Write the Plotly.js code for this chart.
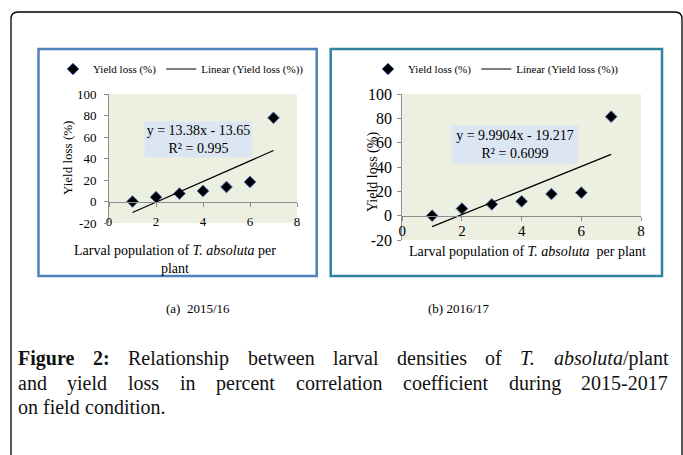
<!DOCTYPE html>
<html>
<head>
<meta charset="utf-8">
<script src="https://cdn.plot.ly/plotly-3.0.1.min.js"></script>
<style>
html,body{margin:0;padding:0;background:#fff;}
#chart{width:683px;height:455px;}
</style>
</head>
<body>
<div id="chart"></div>
<script>
// ---- data ----
const larvae = [1, 2, 3, 4, 5, 6, 7];
const loss1516 = [0, 4, 7.4, 9.8, 13.5, 18.2, 77.8];
const loss1617 = [0, 5.8, 9.3, 11.8, 17.8, 18.9, 81.4];
const trendX = [1, 7];
const trend1516 = [-10.2, 47.4];
const trend1617 = [-9.0, 50.4];
const xTickVals = [0, 2, 4, 6, 8];
const xTickText = ['0', '2', '4', '6', '8'];
const yTickVals = [-20, 0, 20, 40, 60, 80, 100];
const yTickText = ['-20', '0', '20', '40', '60', '80', '100'];
const seriesName = 'Yield loss (%)';
const trendName = 'Linear (Yield loss (%))';
const eq1516 = 'y = 13.38x - 13.65<br>R² = 0.995';
const eq1617 = 'y = 9.9904x - 19.217<br>R² = 0.6099';
const subCaps = ['(a)\u00a0 2015/16', '(b) 2016/17'];
const captionText = [
  [[['Figure', 'b']], [['2:', 'b']], [['Relationship', '']], [['between', '']], [['larval', '']], [['densities', '']], [['of', '']], [['T.', 'i']], [['absoluta', 'i'], ['/plant', '']]],
  'and yield loss in percent correlation coefficient during 2015-2017'.split(' ').map(w => [[w, '']]),
  'on field condition.'.split(' ').map(w => [[w, '']])
];

// ---- helpers ----
const W = 683, H = 455;
const px = v => v / W;
const py = v => 1 - v / H;
const SERIF = 'Liberation Serif, Times New Roman, serif';

const markerStyle = {symbol: 'diamond', size: 9, color: '#000000', line: {color: '#4f74b8', width: 1}};

const traces = [
  {x: larvae, y: loss1516, type: 'scatter', mode: 'markers', name: seriesName, marker: markerStyle, xaxis: 'x', yaxis: 'y', legend: 'legend'},
  {x: trendX, y: trend1516, type: 'scatter', mode: 'lines', name: trendName, line: {color: '#000', width: 1.2}, xaxis: 'x', yaxis: 'y', legend: 'legend'},
  {x: larvae, y: loss1617, type: 'scatter', mode: 'markers', name: seriesName, marker: markerStyle, xaxis: 'x2', yaxis: 'y2', legend: 'legend2'},
  {x: trendX, y: trend1617, type: 'scatter', mode: 'lines', name: trendName, line: {color: '#000', width: 1.2}, xaxis: 'x2', yaxis: 'y2', legend: 'legend2'}
];

function xAxis(d0, d1, pos, fs, standoff) {
  return {domain: [px(d0), px(d1)], range: [0, 8], anchor: 'free', position: pos,
    tickmode: 'array', tickvals: xTickVals, ticktext: xTickText,
    showline: true, linecolor: '#8c8c8c', linewidth: 1, ticks: 'outside', ticklen: 4, tickcolor: '#8c8c8c',
    ticklabelstandoff: standoff, showgrid: false, zeroline: false, fixedrange: true,
    tickfont: {family: SERIF, size: fs, color: '#000'}};
}
function yAxis(top, bottom, anchor, fs, standoff) {
  return {domain: [py(bottom), py(top)], range: [-20, 100], anchor: anchor,
    tickmode: 'array', tickvals: yTickVals, ticktext: yTickText,
    showline: true, linecolor: '#8c8c8c', linewidth: 1, ticks: 'outside', ticklen: 4, tickcolor: '#8c8c8c',
    ticklabelstandoff: standoff, showgrid: false, zeroline: false, fixedrange: true,
    tickfont: {family: SERIF, size: fs, color: '#000'}};
}

// positions of y=0 in paper coords
const pos1 = py(223) + (py(94) - py(223)) * (20 / 120);
const pos2 = py(240) + (py(94) - py(240)) * (20 / 120);

function note(x, y, text, fs, extra) {
  return Object.assign({xref: 'paper', yref: 'paper', x: px(x), y: py(y), xanchor: 'center', yanchor: 'middle',
    text: text, showarrow: false, font: {family: SERIF, size: fs, color: '#000'}}, extra || {});
}

const annotations = [
  note(67, 158, 'Yield loss (%)', 13, {textangle: -90}),
  note(373, 172, 'Yield loss (%)', 14, {textangle: -90}),
  note(175, 259.5, 'Larval population of <i>T. absoluta</i> per<br>plant', 14),
  note(527, 251, 'Larval population of <i>T. absoluta</i>\u00a0 per plant', 14),
  note(198.5, 139.5, eq1516, 14, {bgcolor: '#dce6f2', width: 105, height: 33, borderpad: 1}),
  note(515, 144.5, eq1617, 14, {bgcolor: '#dce6f2', width: 124, height: 35, borderpad: 1}),
  note(198, 308, subCaps[0], 13),
  note(459, 308, subCaps[1], 13)
];

// caption paragraph, justified
const CFS = 20;
const cvs = document.createElement('canvas');
const ctx = cvs.getContext('2d');
function segFont(st) {
  return (st === 'i' ? 'italic ' : '') + (st === 'b' ? 'bold ' : '') + CFS + 'px "Liberation Serif"';
}
function wordWidth(word) {
  let w = 0;
  word.forEach(([t, st]) => { ctx.font = segFont(st); w += ctx.measureText(t).width; });
  return w;
}
function wordHtml(word) {
  return word.map(([t, st]) => st === 'b' ? '<b>' + t + '</b>' : st === 'i' ? '<i>' + t + '</i>' : t).join('');
}
ctx.font = segFont('');
const spaceW = ctx.measureText(' ').width;
const capLeft = 18, capRight = 668;
const capCenters = [358, 383, 407];
captionText.forEach((words, li) => {
  const widths = words.map(wordWidth);
  const total = widths.reduce((a, b) => a + b, 0);
  const justify = li < captionText.length - 1;
  const gap = justify ? (capRight - capLeft - total) / (words.length - 1) : spaceW;
  let xx = capLeft;
  words.forEach((w, wi) => {
    annotations.push({xref: 'paper', yref: 'paper', x: px(xx), y: py(capCenters[li]), xanchor: 'left', yanchor: 'middle',
      text: wordHtml(w), showarrow: false, borderpad: 0, borderwidth: 0,
      font: {family: SERIF, size: CFS, color: '#111'}});
    xx += widths[wi] + gap;
  });
});

const r = 7;
const shapes = [
  // outer frame with rounded top corners
  {type: 'path', xref: 'paper', yref: 'paper',
   path: `M ${px(11)} ${py(470)} L ${px(11)} ${py(12 + r)} Q ${px(11)} ${py(12)} ${px(11 + r)} ${py(12)} L ${px(682 - r)} ${py(12)} Q ${px(682)} ${py(12)} ${px(682)} ${py(12 + r)} L ${px(682)} ${py(470)}`,
   line: {color: '#000', width: 1.3}},
  {type: 'rect', xref: 'paper', yref: 'paper', x0: px(38.5), x1: px(316.7), y0: py(49), y1: py(276), line: {color: '#4f81bd', width: 2.5}},
  {type: 'rect', xref: 'paper', yref: 'paper', x0: px(330.7), x1: px(662), y0: py(49), y1: py(276), line: {color: '#31849b', width: 2.5}}
];

const legendBase = {orientation: 'h', yanchor: 'middle', xanchor: 'left', bgcolor: 'rgba(0,0,0,0)',
  font: {family: SERIF, size: 11, color: '#000'}, borderwidth: 0};

const layout = {
  width: W, height: H,
  margin: {l: 0, r: 0, t: 0, b: 0},
  paper_bgcolor: '#ffffff',
  plot_bgcolor: '#edf0e1',
  showlegend: true,
  legend: Object.assign({}, legendBase, {x: px(53), y: py(69)}),
  legend2: Object.assign({}, legendBase, {x: px(368), y: py(69)}),
  xaxis: xAxis(109, 297, pos1, 13, 4),
  yaxis: yAxis(94, 223, 'x', 13, 5),
  xaxis2: xAxis(402.3, 641, pos2, 15, -3),
  yaxis2: yAxis(94, 240, 'x2', 16, 2),
  annotations: annotations,
  shapes: shapes
};

Plotly.newPlot('chart', traces, layout, {staticPlot: true, displayModeBar: false});
</script>
</body>
</html>
